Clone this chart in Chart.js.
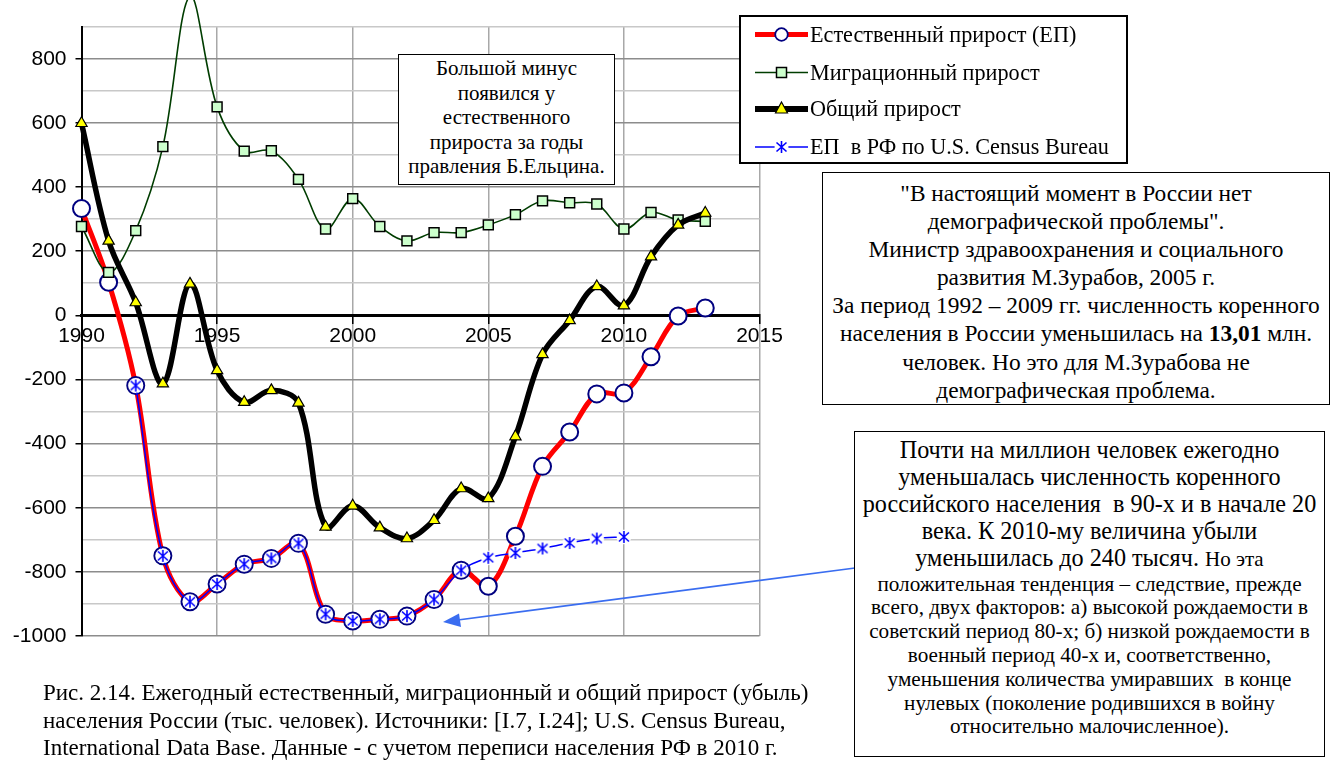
<!DOCTYPE html>
<html><head><meta charset="utf-8">
<script src="https://cdn.jsdelivr.net/npm/chart.js@4"></script>
<style>
html,body{margin:0;padding:0;background:#fff;width:1332px;height:760px;overflow:hidden;position:relative;font-family:"Liberation Serif","Times New Roman",serif;color:#000;}
#c{position:absolute;left:0;top:0;}
.box{position:absolute;background:#fff;border:1.5px solid #000;box-sizing:border-box;}
.ln{position:absolute;left:0;right:0;text-align:center;white-space:nowrap;}
.cap{position:absolute;left:43px;white-space:nowrap;font-size:23px;line-height:28px;}
#legend{position:absolute;left:739px;top:15px;width:389px;height:149px;border:2px solid #000;box-sizing:border-box;background:#fff;}
.li{position:absolute;left:69px;white-space:nowrap;font-size:22.2px;line-height:28px;}
svg{position:absolute;left:0;top:0;}
</style></head><body>
<canvas id="c" width="1332" height="760"></canvas>
<svg width="1332" height="760" style="pointer-events:none">
  <line x1="855" y1="568" x2="456" y2="620.2" stroke="#3a6df0" stroke-width="1.6"/>
  <polygon points="443,622 459,613.5 461,627" fill="#3a6df0"/>
</svg>
<div class="box" id="b1" style="left:398px;top:54px;width:217px;height:131px;"></div>
<div class="box" id="b2" style="left:822px;top:172px;width:508px;height:233px;"></div>
<div class="box" id="b3" style="left:854px;top:431px;width:471px;height:326px;"></div>
<div id="legend">
  <svg width="389" height="149">
    <line x1="14" y1="17.5" x2="67" y2="17.5" stroke="#ff0000" stroke-width="5"/>
    <circle cx="40.5" cy="17.5" r="6.3" fill="#fff" stroke="#000080" stroke-width="1.8"/>
    <line x1="14" y1="55.5" x2="67" y2="55.5" stroke="#003d00" stroke-width="1.5"/>
    <rect x="35.5" y="50.5" width="10" height="10" fill="#ccffcc" stroke="#000" stroke-width="1.5"/>
    <line x1="14" y1="92" x2="67" y2="92" stroke="#000" stroke-width="6"/>
    <polygon points="40.5,85 46.5,96 34.5,96" fill="#ffff00" stroke="#000" stroke-width="1.2"/>
    <line x1="14" y1="130" x2="67" y2="130" stroke="#0000ff" stroke-width="1.5"/>
    <circle cx="40.5" cy="130" r="7" fill="#fff"/>
    <path d="M40.5 124 V136 M35.5 125.5 L45.5 134.5 M45.5 125.5 L35.5 134.5" stroke="#0000ff" stroke-width="1.6"/>
  </svg>
  <div class="li" style="top:4px">Естественный прирост (ЕП)</div>
  <div class="li" style="top:42px">Миграционный прирост</div>
  <div class="li" style="top:78px">Общий прирост</div>
  <div class="li" style="top:116px">ЕП&nbsp; в РФ по U.S. Census Bureau</div>
</div>
<div class="cap" style="top:679px">Рис. 2.14. Ежегодный естественный, миграционный и общий прирост (убыль)</div>
<div class="cap" style="top:707px">населения России (тыс. человек). Источники: [I.7, I.24]; U.S. Census Bureau,</div>
<div class="cap" style="top:734px">International Data Base. Данные - с учетом переписи населения РФ в 2010 г.</div>
<script>
// ---- data (thousand persons) ----
const years = [1990,1991,1992,1993,1994,1995,1996,1997,1998,1999,2000,2001,2002,2003,2004,2005,2006,2007,2008,2009,2010,2011,2012,2013];
const naturalIncrease = [333,103,-219,-750,-893,-838,-776,-758,-711,-932,-953,-948,-938,-886,-795,-845,-689,-471,-364,-245,-242,-129,-2,23];
const migrationIncrease = [277,134,264,526,995,650,512,513,424,269,364,277,232,258,258,282,314,357,351,347,269,321,297,293];
const totalIncrease = [599,232,40,-213,98,-172,-271,-234,-273,-660,-594,-662,-696,-639,-540,-571,-378,-122,-16,90,30,183,282,319];
const censusYears = [1992,1993,1994,1995,1996,1997,1998,1999,2000,2001,2002,2003,2004,2005,2006,2007,2008,2009,2010];
const censusNatural = [-219,-750,-893,-838,-776,-758,-711,-932,-953,-948,-938,-886,-795,-756,-741,-727,-710,-696,-691];
const seriesNames = ['Естественный прирост (ЕП)','Миграционный прирост','Общий прирост','ЕП  в РФ по U.S. Census Bureau'];

// ---- text boxes ----
function addLines(id, lines, firstCenter, spacing){
  const box = document.getElementById(id);
  lines.forEach((l,i)=>{
    const d=document.createElement('div'); d.className='ln';
    const lh = spacing;
    d.style.top=(firstCenter + i*spacing - lh/2 - 1.5)+'px';
    d.style.lineHeight=lh+'px';
    d.style.fontSize=l.s+'px';
    d.innerHTML=l.t; box.appendChild(d);
  });
}
addLines('b1',[
 'Большой минус','появился у','естественного','прироста за годы','правления Б.Ельцина.'
].map(t=>({t:t,s:21})), 15, 24.4);
addLines('b2',[
 '"В настоящий момент в России нет','демографической проблемы".',
 'Министр здравоохранения и социального','развития М.Зурабов, 2005 г.',
 'За период 1992 – 2009 гг. численность коренного',
 'населения в России уменьшилась на <b>13,01</b> млн.',
 'человек. Но это для М.Зурабова не','демографическая проблема.'
].map(t=>({t:t,s:23.4})), 21.5, 28.1);
addLines('b3',[
 'Почти на миллион человек ежегодно',
 'уменьшалась численность коренного',
 'российского населения&nbsp; в 90-х и в начале 20',
 'века. К 2010-му величина убыли',
 'уменьшилась до 240 тысяч. <span style="font-size:21px">Но эта</span>'
].map(t=>({t:t,s:24.2})), 19, 27);
addLines('b3',[
 'положительная тенденция – следствие, прежде',
 'всего, двух факторов: а) высокой рождаемости в',
 'советский период 80-х; б) низкой рождаемости в',
 'военный период 40-х и, соответственно,',
 'уменьшения количества умиравших&nbsp; в конце',
 'нулевых (поколение родившихся в войну',
 'относительно малочисленное).'
].map(t=>({t:t,s:21.2})), 154, 23.8);

// ---- star marker ----
function makeStar(){
  const c=document.createElement('canvas'); c.width=18; c.height=18;
  const g=c.getContext('2d');
  g.fillStyle='#fff'; g.beginPath(); g.arc(9,9,7.3,0,Math.PI*2); g.fill();
  g.strokeStyle='#0000ff'; g.lineWidth=1.6; g.beginPath();
  g.moveTo(9,3); g.lineTo(9,15);
  g.moveTo(4,4.5); g.lineTo(14,13.5);
  g.moveTo(14,4.5); g.lineTo(4,13.5);
  g.stroke(); return c;
}
const pts=(xs,ys)=>xs.map((x,i)=>({x:x,y:ys[i]}));
const ctx=document.getElementById('c').getContext('2d');
new Chart(ctx,{
  type:'line',
  data:{datasets:[
    {label:seriesNames[0],data:pts(years,naturalIncrease),borderColor:'#ff0000',borderWidth:5,
     pointStyle:'circle',pointRadius:8.5,pointBorderColor:'#000080',pointBackgroundColor:'#ffffff',pointBorderWidth:2,order:4,clip:false},
    {label:seriesNames[1],data:pts(years,migrationIncrease),borderColor:'#003d00',borderWidth:1.6,
     pointStyle:'rect',pointRadius:7,pointBorderColor:'#000',pointBackgroundColor:'#ccffcc',pointBorderWidth:1.5,order:3,clip:false},
    {label:seriesNames[2],data:pts(years,totalIncrease),borderColor:'#000000',borderWidth:5.5,
     pointStyle:'triangle',pointRadius:6.5,pointBorderColor:'#000',pointBackgroundColor:'#ffff00',pointBorderWidth:1.2,order:2,clip:false},
    {label:seriesNames[3],data:pts(censusYears,censusNatural),borderColor:'#0000ff',borderWidth:1.5,
     pointStyle:makeStar(),pointRadius:8,order:1,clip:false}
  ]},
  options:{
    responsive:false,animation:false,devicePixelRatio:1,
    layout:{padding:{top:26.7,bottom:124,right:572.5,left:0}},
    plugins:{legend:{display:false},tooltip:{enabled:false}},
    elements:{line:{tension:0.35,capBezierPoints:false,fill:false}},
    scales:{
      x:{type:'linear',min:1990,max:2015,position:{y:0},
         ticks:{stepSize:5,autoSkip:false,maxRotation:0,color:'#000',padding:1,
                font:{family:'Liberation Sans',size:21},callback:v=>String(v)},
         grid:{color:'#a8a8a8',lineWidth:1.5,tickColor:'#000',tickLength:7},
         border:{color:'#000',width:3}},
      y:{type:'linear',min:-1000,max:900,
         ticks:{stepSize:100,autoSkip:false,color:'#000',padding:9,
                font:{family:'Liberation Sans',size:21},callback:v=>(v%200===0?String(v):'')},
         grid:{color:c=>(c.tick&&c.tick.value%200===0?'#8c8c8c':'#c8c8c8'),lineWidth:1.5,
               tickColor:c=>(c.tick&&c.tick.value%200===0?'#000':'rgba(0,0,0,0)'),tickLength:6},
         border:{color:'#000',width:2},
         afterFit:s=>{s.width=81.5;}}
    }
  }
});
</script>
</body></html>
